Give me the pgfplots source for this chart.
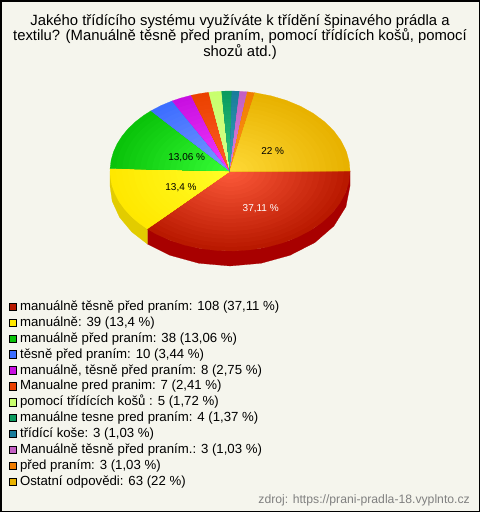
\documentclass[border=0pt]{standalone}
\usepackage{fontspec}
\setmainfont{Liberation Sans}
\usepackage{pgfplots}
\usepackage{pgfplotstable}
\pgfplotsset{compat=1.18}
\definecolor{bgc}{RGB}{245,245,237}
\definecolor{redO}{RGB}{185,25,0}\definecolor{redI}{RGB}{255,92,60}
\definecolor{yelO}{RGB}{255,232,0}\definecolor{yelI}{RGB}{255,255,40}
\definecolor{grnO}{RGB}{10,195,10}\definecolor{grnI}{RGB}{55,255,55}
\definecolor{bluO}{RGB}{60,110,255}\definecolor{bluI}{RGB}{125,155,255}
\definecolor{magO}{RGB}{200,15,225}\definecolor{magI}{RGB}{245,60,255}
\definecolor{oreO}{RGB}{235,65,0}\definecolor{oreI}{RGB}{255,95,40}
\definecolor{lgrO}{RGB}{200,255,110}\definecolor{lgrI}{RGB}{215,255,140}
\definecolor{dgrO}{RGB}{10,155,95}\definecolor{dgrI}{RGB}{50,200,130}
\definecolor{telO}{RGB}{25,125,155}\definecolor{telI}{RGB}{60,160,190}
\definecolor{purO}{RGB}{195,95,195}\definecolor{purI}{RGB}{220,130,220}
\definecolor{orgO}{RGB}{240,125,0}\definecolor{orgI}{RGB}{255,150,30}
\definecolor{golO}{RGB}{232,178,0}\definecolor{golI}{RGB}{255,218,55}
\definecolor{sideR}{RGB}{168,0,0}\definecolor{sideY}{RGB}{226,204,0}
% wedges: angle (degrees, clockwise on screen from the right), r = 0 centre, 1 rim
\pgfplotstableread[row sep=\\]{a r\\0 0\\0 1\\8 1\\16 1\\24 1\\32 1\\40 1\\48 1\\56 1\\64 1\\72 1\\80 1\\88 1\\96 1\\104 1\\112 1\\120 1\\128 1\\133.6 1\\}\tRed
\pgfplotstableread[row sep=\\]{a r\\0 0\\133.6 1\\140 1\\146 1\\152 1\\158 1\\164 1\\170 1\\176 1\\181.8 1\\}\tYel
\pgfplotstableread[row sep=\\]{a r\\0 0\\181.8 1\\188 1\\194 1\\200 1\\206 1\\212 1\\218 1\\224 1\\228.8 1\\}\tGrn
\pgfplotstableread[row sep=\\]{a r\\0 0\\228.8 1\\235 1\\241.2 1\\}\tBlu
\pgfplotstableread[row sep=\\]{a r\\0 0\\241.2 1\\246 1\\251.1 1\\}\tMag
\pgfplotstableread[row sep=\\]{a r\\0 0\\251.1 1\\255.5 1\\259.8 1\\}\tOre
\pgfplotstableread[row sep=\\]{a r\\0 0\\259.8 1\\263 1\\266 1\\}\tLgr
\pgfplotstableread[row sep=\\]{a r\\0 0\\266 1\\268.5 1\\270.9 1\\}\tDgr
\pgfplotstableread[row sep=\\]{a r\\0 0\\270.9 1\\274.6 1\\}\tTel
\pgfplotstableread[row sep=\\]{a r\\0 0\\274.6 1\\278.3 1\\}\tPur
\pgfplotstableread[row sep=\\]{a r\\0 0\\278.3 1\\282 1\\}\tOrg
\pgfplotstableread[row sep=\\]{a r\\0 0\\282 1\\290 1\\298 1\\306 1\\314 1\\322 1\\330 1\\338 1\\346 1\\354 1\\360 1\\}\tGol
% side walls: d = 0 upper edge, 1 lower edge
\pgfplotstableread[row sep=\\]{a d\\0 0\\15 0\\30 0\\45 0\\60 0\\75 0\\90 0\\105 0\\120 0\\133.6 0\\133.6 1\\120 1\\105 1\\90 1\\75 1\\60 1\\45 1\\30 1\\15 1\\0 1\\}\tSideR
\pgfplotstableread[row sep=\\]{a d\\133.6 0\\145 0\\157 0\\169 0\\180 0\\180 1\\169 1\\157 1\\145 1\\133.6 1\\}\tSideY
\newcommand\pieslice[4]{%
  \addplot[fill=#2,draw=#2,line width=0.2pt,no markers]
    table[x expr={230+120*\thisrow{r}*cos(\thisrow{a})},y expr={171+80*\thisrow{r}*sin(\thisrow{a})}] {#1} -- cycle;
  \addlegendentry{#4}
  \pgfplotsinvokeforeach{95,90,...,5}{%
    \addplot[forget plot,fill=#2!##1!#3,draw=none,no markers]
      table[x expr={230+120*##1/100*\thisrow{r}*cos(\thisrow{a})},y expr={171+80*##1/100*\thisrow{r}*sin(\thisrow{a})}] {#1} -- cycle;
  }%
}
\begin{document}
\begin{tikzpicture}
\begin{axis}[
  scale only axis,width=480pt,height=512pt,
  xmin=0,xmax=480,ymin=0,ymax=512,y dir=reverse,
  hide axis,clip=false,
  legend cell align=left,
  legend image code/.code={\path[draw=none,fill=none] (0pt,0pt) rectangle (10.5pt,0.1pt);\draw[#1,draw=black,line width=0.8pt] (0pt,-3.6pt) rectangle (7.2pt,3.6pt);},
  legend style={at={(axis cs:6.5,297.5)},anchor=north west,draw=none,fill=none,
    font=\fontsize{13.2}{15}\selectfont,row sep=2.15pt,inner sep=2pt,
    nodes={inner sep=0.5pt,text depth=2.8pt,text height=10pt}},
]
\draw[fill=bgc,draw=black,line width=1.5pt] (axis cs:0.75,0.75) rectangle (axis cs:479.25,511.25);
\addplot[forget plot,fill=sideR,draw=sideR,line width=0.2pt,no markers]
  table[x expr={230+120*cos(\thisrow{a})},y expr={171+80*sin(\thisrow{a})+15*\thisrow{d}}] {\tSideR} -- cycle;
\addplot[forget plot,fill=sideY,draw=sideY,line width=0.2pt,no markers]
  table[x expr={230+120*cos(\thisrow{a})},y expr={171+80*sin(\thisrow{a})+15*\thisrow{d}}] {\tSideY} -- cycle;
\pieslice{\tRed}{redO}{redI}{manuálně těsně před praním: 108 (37,11 \%)}
\pieslice{\tYel}{yelO}{yelI}{manuálně: 39 (13,4 \%)}
\pieslice{\tGrn}{grnO}{grnI}{manuálně před praním: 38 (13,06 \%)}
\pieslice{\tBlu}{bluO}{bluI}{těsně před praním: 10 (3,44 \%)}
\pieslice{\tMag}{magO}{magI}{manuálně, těsně před praním: 8 (2,75 \%)}
\pieslice{\tOre}{oreO}{oreI}{Manualne pred pranim: 7 (2,41 \%)}
\pieslice{\tLgr}{lgrO}{lgrI}{pomocí třídících košů : 5 (1,72 \%)}
\pieslice{\tDgr}{dgrO}{dgrI}{manuálne tesne pred praním: 4 (1,37 \%)}
\pieslice{\tTel}{telO}{telI}{třídící koše: 3 (1,03 \%)}
\pieslice{\tPur}{purO}{purI}{Manuálně těsně před praním.: 3 (1,03 \%)}
\pieslice{\tOrg}{orgO}{orgI}{před praním: 3 (1,03 \%)}
\pieslice{\tGol}{golO}{golI}{Ostatní odpovědi: 63 (22 \%)}
\node[align=center,font=\fontsize{14.85}{15.5}\selectfont,anchor=center] at (axis cs:240,37)
  {Jakého třídícího systému využíváte k třídění špinavého prádla a\\textilu? (Manuálně těsně před praním, pomocí třídících košů, pomocí\\shozů atd.)};
\node[font=\fontsize{10}{12}\selectfont] at (axis cs:186.7,157.3) {13,06 \%};
\node[font=\fontsize{10}{12}\selectfont] at (axis cs:181,188) {13,4 \%};
\node[font=\fontsize{10}{12}\selectfont] at (axis cs:272.7,151) {22 \%};
\node[font=\fontsize{10}{12}\selectfont,text=white] at (axis cs:260.7,208.3) {37,11 \%};
\node[font=\fontsize{12.2}{13}\selectfont,text=black!50,anchor=east,inner sep=0pt] at (axis cs:470,500.7) {zdroj: https://prani-pradla-18.vyplnto.cz};
\end{axis}
\end{tikzpicture}
\end{document}
